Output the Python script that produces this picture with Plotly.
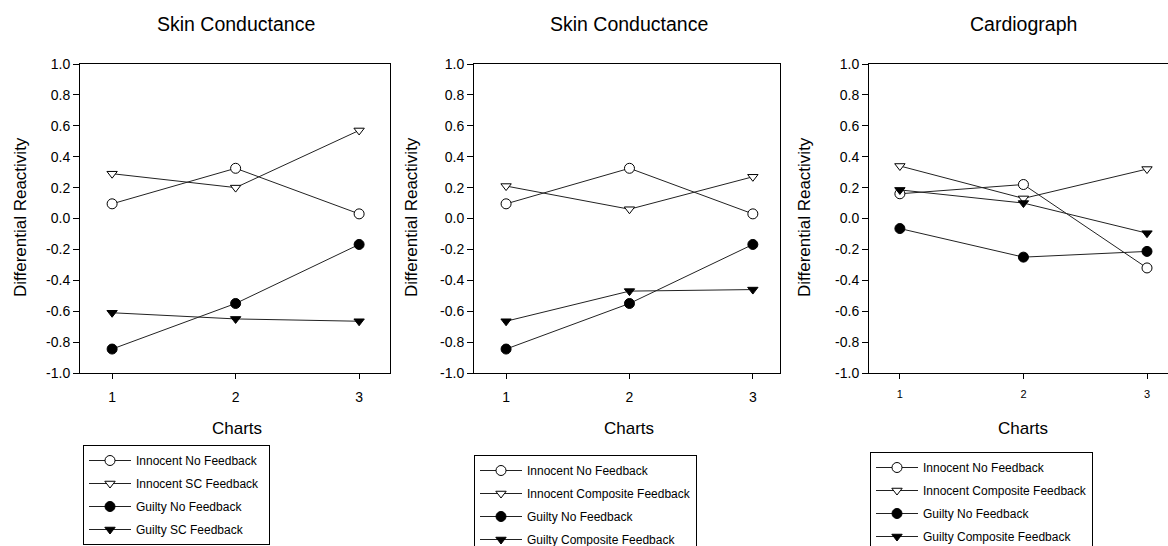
import plotly.graph_objects as go

charts = [1, 2, 3]
titles = ["Skin Conductance", "Skin Conductance", "Cardiograph"]
y_ticks = [-1.0, -0.8, -0.6, -0.4, -0.2, 0.0, 0.2, 0.4, 0.6, 0.8, 1.0]

# Panel 1: Skin conductance, SC feedback
p1_innocent_nofb = [0.095, 0.325, 0.03]
p1_innocent_fb = [0.29, 0.20, 0.57]
p1_guilty_nofb = [-0.845, -0.55, -0.168]
p1_guilty_fb = [-0.61, -0.65, -0.665]
# Panel 2: Skin conductance, composite feedback
p2_innocent_nofb = [0.095, 0.325, 0.03]
p2_innocent_fb = [0.21, 0.06, 0.27]
p2_guilty_nofb = [-0.845, -0.55, -0.168]
p2_guilty_fb = [-0.665, -0.47, -0.46]
# Panel 3: Cardiograph, composite feedback
p3_innocent_nofb = [0.16, 0.22, -0.32]
p3_innocent_fb = [0.34, 0.13, 0.32]
p3_guilty_nofb = [-0.065, -0.25, -0.213]
p3_guilty_fb = [0.185, 0.10, -0.095]

labels1 = ["Innocent No Feedback", "Innocent SC Feedback", "Guilty No Feedback", "Guilty SC Feedback"]
labels2 = ["Innocent No Feedback", "Innocent Composite Feedback", "Guilty No Feedback", "Guilty Composite Feedback"]
labels3 = labels2

panels = [
    (labels1, [p1_innocent_nofb, p1_innocent_fb, p1_guilty_nofb, p1_guilty_fb]),
    (labels2, [p2_innocent_nofb, p2_innocent_fb, p2_guilty_nofb, p2_guilty_fb]),
    (labels3, [p3_innocent_nofb, p3_innocent_fb, p3_guilty_nofb, p3_guilty_fb]),
]

symbols = ["circle", "triangle-down", "circle", "triangle-down"]
fills = ["white", "white", "black", "black"]
sizes = [10, 9, 10, 9]

W, H = 1168, 546
FONT = "Liberation Sans, Arial, sans-serif"

def px(x):
    return x / W

def py(y):
    return 1 - y / H

xdomains = [(80, 390), (474, 780), (869, 1168)]
xranges = [(0.74, 3.25), (0.74, 3.22), (0.75, 3.17)]
legend_pos = [(83, 445), (474, 455), (870, 452)]
title_x = [236, 629, 1023]
charts_x = [237, 629, 1023]
ylabel_x = [21, 412, 805]
xtick_font = [14, 14, 11]
pad_right = ["\u00a0\u00a0", "", ""]

fig = go.Figure()
legend_names = ["legend", "legend2", "legend3"]

for pi, (labels, series) in enumerate(panels):
    xa = "x" if pi == 0 else f"x{pi+1}"
    ya = "y" if pi == 0 else f"y{pi+1}"
    for si, vals in enumerate(series):
        name = labels[si] + (pad_right[pi] if si == 0 else "")
        fig.add_trace(go.Scatter(
            x=charts, y=vals, xaxis=xa, yaxis=ya,
            mode="lines+markers", name=name,
            line=dict(color="#222222", width=1),
            marker=dict(symbol=symbols[si], size=sizes[si], color=fills[si],
                        line=dict(color="black", width=1)),
            legend=legend_names[pi],
            legendgroup=f"p{pi}s{si}",
        ))

layout = dict(
    width=W, height=H,
    margin=dict(l=0, r=0, t=0, b=0, autoexpand=False),
    paper_bgcolor="white", plot_bgcolor="white",
    font=dict(family=FONT, color="black"),
    annotations=[],
)

for pi in range(3):
    sfx = "" if pi == 0 else str(pi + 1)
    d0, d1 = xdomains[pi]
    layout[f"xaxis{sfx}"] = dict(
        domain=[px(d0), px(d1)], range=list(xranges[pi]),
        anchor=f"y{sfx}", tickvals=charts, ticktext=[str(c) for c in charts],
        ticks="outside", ticklen=5, tickcolor="black", tickwidth=1,
        ticklabelstandoff=6,
        showline=True, linecolor="black", linewidth=1, mirror=True,
        showgrid=False, zeroline=False,
        tickfont=dict(size=xtick_font[pi], family=FONT, color="black"),
    )
    layout[f"yaxis{sfx}"] = dict(
        domain=[py(373), py(64)], range=[-1.0, 1.0],
        anchor=f"x{sfx}", tickvals=y_ticks, ticktext=[f"{v:.1f}" for v in y_ticks],
        ticks="outside", ticklen=6, tickcolor="black", tickwidth=1,
        showline=True, linecolor="black", linewidth=1, mirror=(pi < 2),
        showgrid=False, zeroline=False,
        tickfont=dict(size=14, family=FONT, color="black"),
    )
    layout["annotations"].append(dict(
        text=titles[pi], xref="paper", yref="paper",
        x=px(title_x[pi]), y=py(24),
        xanchor="center", yanchor="middle", showarrow=False,
        font=dict(size=19.5, family=FONT, color="black")))
    layout["annotations"].append(dict(
        text="Charts", xref="paper", yref="paper",
        x=px(charts_x[pi]), y=py(428),
        xanchor="center", yanchor="middle", showarrow=False,
        font=dict(size=17, family=FONT, color="black")))
    layout["annotations"].append(dict(
        text="Differential Reactivity", xref="paper", yref="paper",
        x=px(ylabel_x[pi]), y=py(217), textangle=-90,
        xanchor="center", yanchor="middle", showarrow=False,
        font=dict(size=17, family=FONT, color="black")))
    lx, ly = legend_pos[pi]
    layout[legend_names[pi]] = dict(
        x=px(lx), y=py(ly), xanchor="left", yanchor="top",
        bordercolor="black", borderwidth=1, bgcolor="white",
        font=dict(size=12, family=FONT, color="black"),
        tracegroupgap=4, itemwidth=42, traceorder="grouped",
    )

fig.update_layout(**layout)
fig.write_html(
    "out.html",
    config={"displayModeBar": False},
    post_script="document.body.style.margin='0';document.body.style.overflow='hidden';",
)
